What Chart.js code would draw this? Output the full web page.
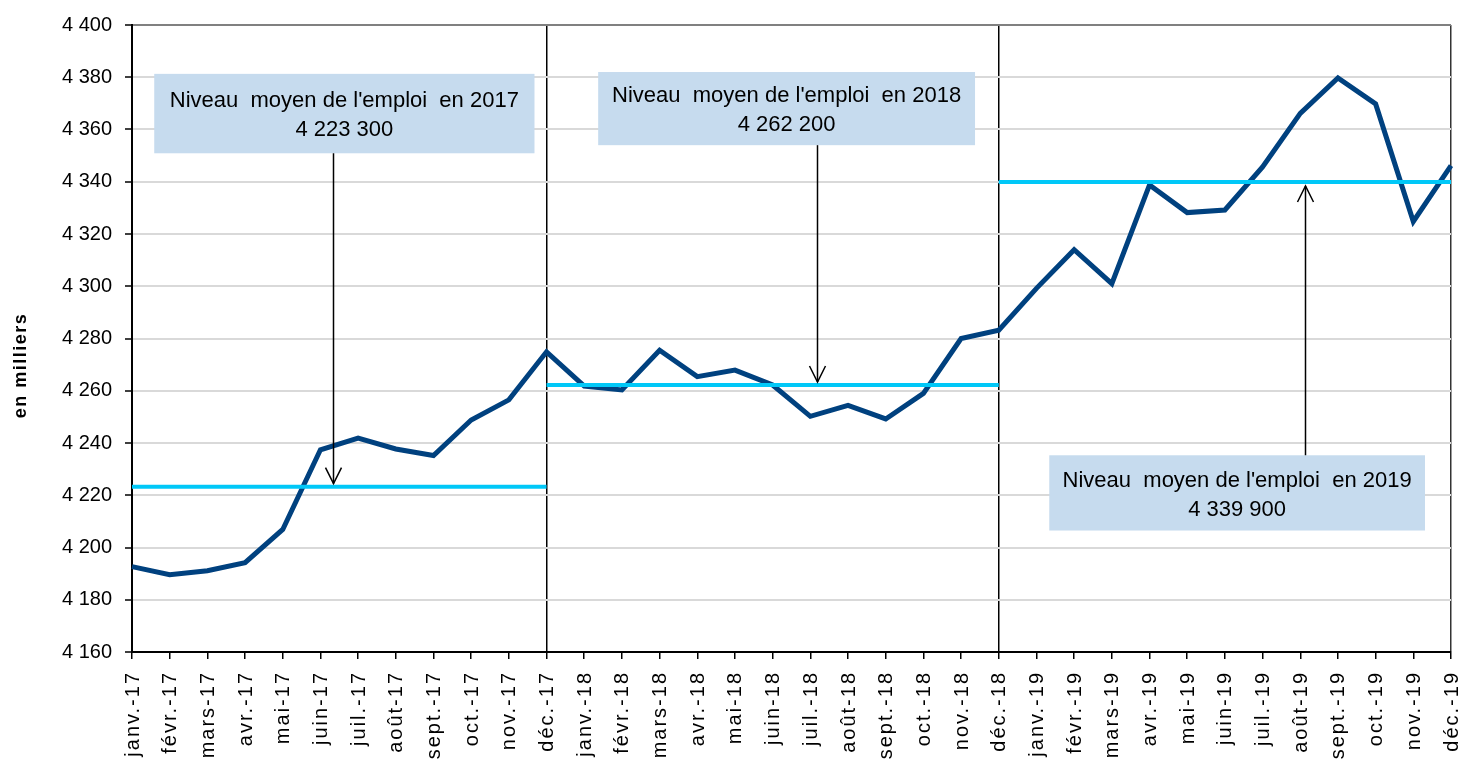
<!DOCTYPE html>
<html lang="fr">
<head>
<meta charset="utf-8">
<title>Niveau moyen de l'emploi</title>
<script src="https://cdn.jsdelivr.net/npm/chart.js@4/dist/chart.umd.min.js"></script>
<style>
  html, body { margin: 0; padding: 0; background: #fff; }
  canvas { display: block; }
</style>
</head>
<body>
<canvas id="emploiChart" width="1462" height="764"></canvas>
<script>
const months = [
  'janv.-17', 'févr.-17', 'mars-17', 'avr.-17', 'mai-17', 'juin-17', 'juil.-17', 'août-17', 'sept.-17', 'oct.-17', 'nov.-17', 'déc.-17',
  'janv.-18', 'févr.-18', 'mars-18', 'avr.-18', 'mai-18', 'juin-18', 'juil.-18', 'août-18', 'sept.-18', 'oct.-18', 'nov.-18', 'déc.-18',
  'janv.-19', 'févr.-19', 'mars-19', 'avr.-19', 'mai-19', 'juin-19', 'juil.-19', 'août-19', 'sept.-19', 'oct.-19', 'nov.-19', 'déc.-19'
];

// emploi mensuel, en milliers
const emploi = [
  4192.7, 4189.6, 4191.1, 4194.2, 4206.9, 4237.4, 4241.9, 4237.7, 4235.2, 4248.8, 4256.5, 4274.9,
  4261.8, 4260.3, 4275.5, 4265.4, 4267.9, 4262.2, 4250.2, 4254.4, 4249.2, 4259.0, 4280.0, 4283.2,
  4299.2, 4314.0, 4301.0, 4338.8, 4328.2, 4329.2, 4345.7, 4366.2, 4379.7, 4369.8, 4324.8, 4346.2
];

// niveau moyen annuel et mois couverts par chaque trait
const years = ['2017', '2018', '2019'];
const moyennes = [4223.3, 4262.2, 4339.9];
const moisDebut = ['janv.-17', 'déc.-17', 'déc.-18'];
const moisFin = ['déc.-17', 'déc.-18', 'déc.-19'];

const yMin = 4160, yMax = 4400, yStep = 20;

const BLUE = '#00417f';
const CYAN = '#00c8f8';
const BOX = '#c6dbee';
const FONT = "'Liberation Sans', Arial, sans-serif";

// placement des encadrés (en unités d'axe : index de mois / valeur)
const boxes = [
  { x0: 0.59, x1: 10.68, top: 4381.3, bottom: 4350.9, arrowX: 5.34, arrowDir: 'down', dy: 27 },
  { x0: 12.37, x1: 22.37, top: 4382.0, bottom: 4354.0, arrowX: 18.18, arrowDir: 'down', dy: 24 },
  { x0: 24.34, x1: 34.31, top: 4235.3, bottom: 4206.5, arrowX: 31.13, arrowDir: 'up', dy: 26 }
];

function fmtThousands(n) {
  return String(n).replace(/\B(?=(\d{3})+(?!\d))/g, ' ');
}

const avgDatasets = moyennes.map((m, k) => {
  const a = months.indexOf(moisDebut[k]);
  const b = months.indexOf(moisFin[k]);
  return {
    label: 'Moyenne ' + years[k],
    data: months.map((_, i) => (i >= a && i <= b ? m : null)),
    borderColor: CYAN,
    borderWidth: 4,
    pointRadius: 0,
    spanGaps: false,
    order: 0
  };
});

const overlay = {
  id: 'overlay',
  afterDraw(chart) {
    const ctx = chart.ctx;
    const xs = chart.scales.x;
    const ys = chart.scales.y;
    const area = chart.chartArea;

    // encadrés + flèches
    boxes.forEach((b, k) => {
      const left = xs.getPixelForValue(b.x0);
      const right = xs.getPixelForValue(b.x1);
      const top = ys.getPixelForValue(b.top);
      const bottom = ys.getPixelForValue(b.bottom);
      ctx.save();
      ctx.fillStyle = BOX;
      ctx.fillRect(left, top, right - left, bottom - top);
      ctx.fillStyle = '#000';
      ctx.font = '22px ' + FONT;
      ctx.textAlign = 'center';
      ctx.textBaseline = 'middle';
      const cx = (left + right) / 2;
      ctx.fillText("Niveau  moyen de l'emploi  en " + years[k], cx, top + b.dy);
      ctx.fillText(fmtThousands(Math.round(moyennes[k] * 1000)), cx, top + b.dy + 29);

      const ax = Math.round(xs.getPixelForValue(b.arrowX)) + 0.5;
      const lvl = ys.getPixelForValue(moyennes[k]);
      let y0, tip, dir;
      if (b.arrowDir === 'down') { y0 = bottom; tip = lvl - 3; dir = 1; }
      else { y0 = top; tip = lvl + 4; dir = -1; }
      ctx.strokeStyle = '#000';
      ctx.lineWidth = 1.5;
      ctx.beginPath();
      ctx.moveTo(ax, y0);
      ctx.lineTo(ax, tip);
      ctx.stroke();
      ctx.beginPath();
      ctx.moveTo(ax - 8, tip - dir * 16);
      ctx.lineTo(ax, tip);
      ctx.lineTo(ax + 8, tip - dir * 16);
      ctx.stroke();
      ctx.restore();
    });

    // étiquettes de l'axe des mois (verticales)
    ctx.save();
    ctx.fillStyle = '#000';
    ctx.font = '20px ' + FONT;
    if ('letterSpacing' in ctx) ctx.letterSpacing = '2px';
    ctx.textAlign = 'right';
    ctx.textBaseline = 'middle';
    months.forEach((m, i) => {
      const x = xs.getPixelForValue(i);
      ctx.save();
      ctx.translate(x + 1, area.bottom + 19);
      ctx.rotate(-Math.PI / 2);
      ctx.fillText(m, 0, 0);
      ctx.restore();
    });
    ctx.restore();

    // titre de l'axe vertical
    ctx.save();
    ctx.fillStyle = '#000';
    ctx.font = 'bold 18px ' + FONT;
    if ('letterSpacing' in ctx) ctx.letterSpacing = '1.5px';
    ctx.textAlign = 'center';
    ctx.textBaseline = 'middle';
    ctx.translate(21, (area.top + area.bottom) / 2 + 27);
    ctx.rotate(-Math.PI / 2);
    ctx.fillText('en milliers', 0, 0);
    ctx.restore();
  }
};

const ctx = document.getElementById('emploiChart').getContext('2d');

new Chart(ctx, {
  type: 'line',
  data: {
    labels: months,
    datasets: [
      ...avgDatasets,
      {
        label: 'Emploi',
        data: emploi,
        borderColor: BLUE,
        borderWidth: 5,
        pointRadius: 0,
        tension: 0,
        borderJoinStyle: 'miter',
        order: 1
      }
    ]
  },
  options: {
    responsive: false,
    animation: false,
    devicePixelRatio: 1,
    layout: { padding: { left: 0, top: 20, right: 11, bottom: 0 } },
    plugins: {
      legend: { display: false },
      tooltip: { enabled: false }
    },
    scales: {
      x: {
        offset: false,
        border: { color: '#000', width: 2 },
        grid: {
          color: c => {
            if (c.index === 11 || c.index === 23) return '#000';
            if (c.index === 35) return '#333';
            return 'rgba(0,0,0,0)';
          },
          lineWidth: 1.5,
          tickColor: '#000',
          tickWidth: 1.5,
          tickLength: 7
        },
        ticks: { display: false },
        afterFit(scale) { scale.height = 112; }
      },
      y: {
        min: yMin,
        max: yMax,
        border: { color: '#000', width: 2 },
        grid: {
          color: c => (c.tick && c.tick.value === yMax ? '#808080' : '#d9d9d9'),
          lineWidth: 2,
          tickColor: '#000',
          tickWidth: 1.5,
          tickLength: 7
        },
        ticks: {
          stepSize: yStep,
          color: '#000',
          padding: 13,
          font: { family: FONT, size: 20 },
          callback: v => fmtThousands(v)
        },
        afterFit(scale) { scale.width = 132; }
      }
    }
  },
  plugins: [overlay]
});
</script>
</body>
</html>
